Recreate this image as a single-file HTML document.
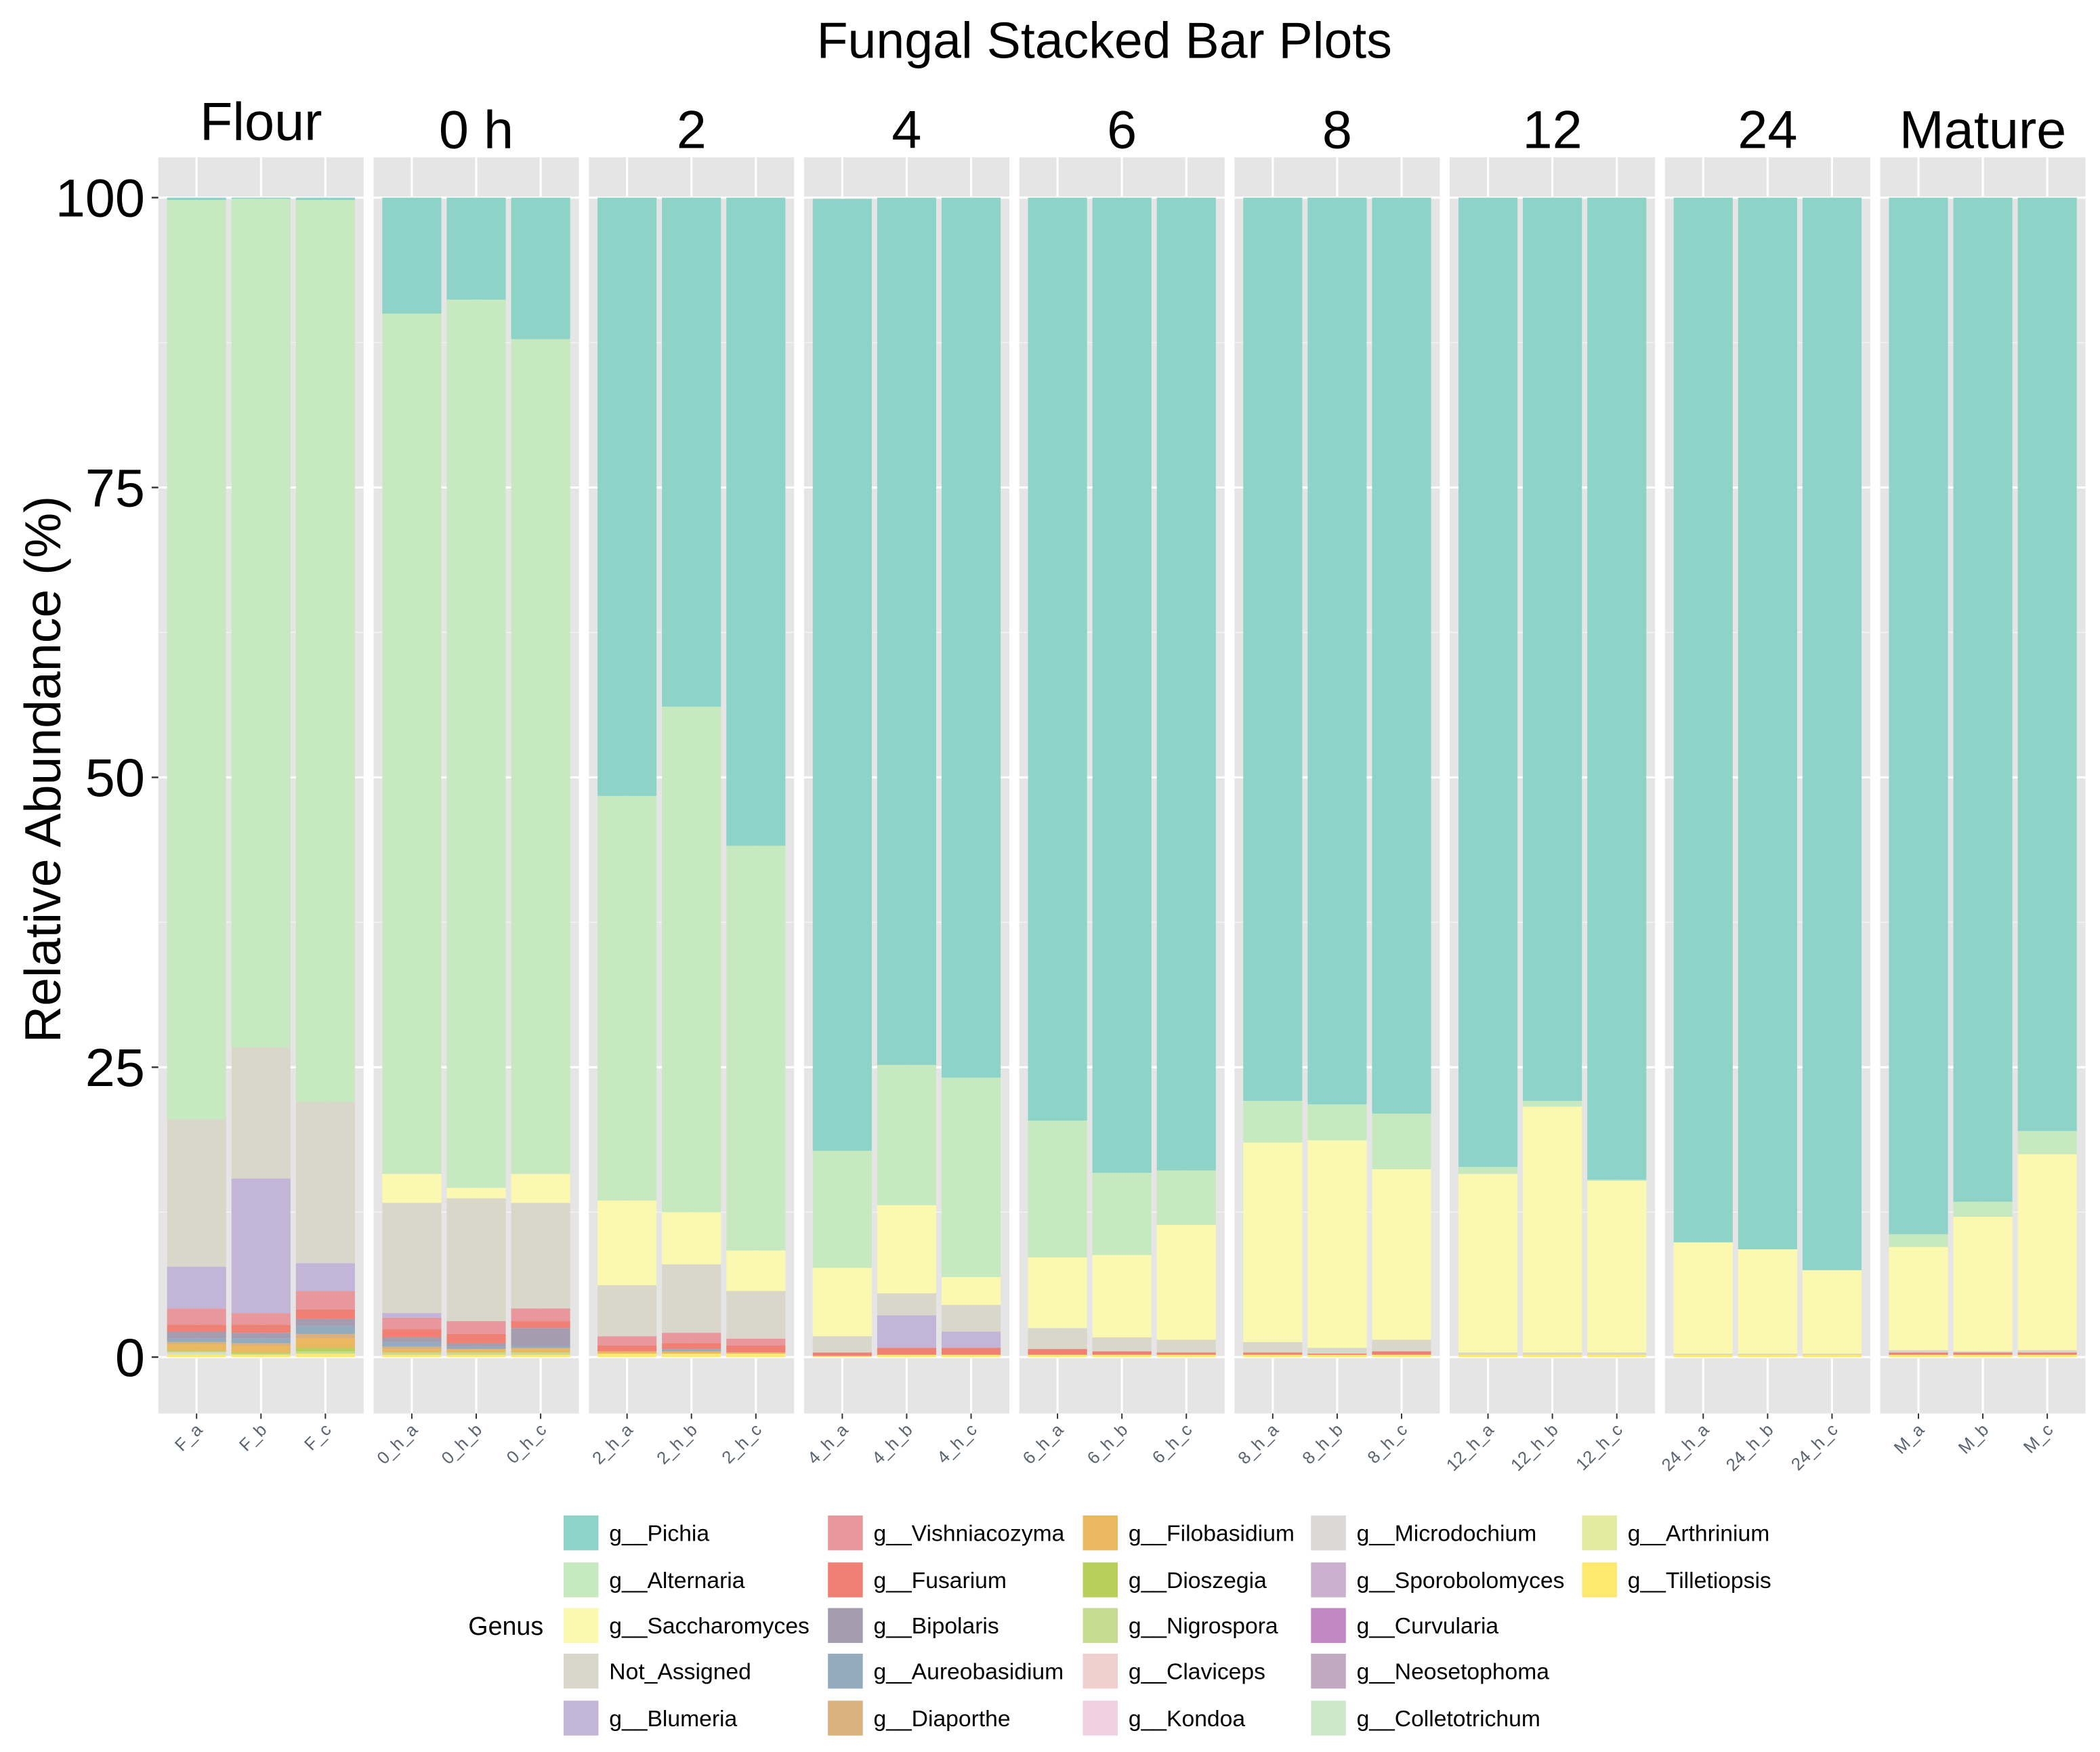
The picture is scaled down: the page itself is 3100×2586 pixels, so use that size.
<!DOCTYPE html>
<html><head><meta charset="utf-8"><style>
html,body{margin:0;padding:0;background:#fff}
svg{display:block}
text{font-family:"Liberation Sans",sans-serif}
</style></head><body>
<svg id="chart" width="3100" height="2586" viewBox="0 0 1565 1305" xmlns="http://www.w3.org/2000/svg">
<rect width="1565" height="1305" fill="#fff"/>
<text x="823" y="43" font-size="38" text-anchor="middle">Fungal Stacked Bar Plots</text>
<text transform="translate(45,573) rotate(-90)" font-size="38" text-anchor="middle">Relative Abundance (%)</text>
<g id="plot"></g>
<g id="legend"></g>
</svg>
<script>
const panels = ["Flour","0 h","2","4","6","8","12","24","Mature"];
const samples = ["F_a","F_b","F_c","0_h_a","0_h_b","0_h_c","2_h_a","2_h_b","2_h_c","4_h_a","4_h_b","4_h_c","6_h_a","6_h_b","6_h_c","8_h_a","8_h_b","8_h_c","12_h_a","12_h_b","12_h_c","24_h_a","24_h_b","24_h_c","M_a","M_b","M_c"];
const genera = ["g__Pichia","g__Alternaria","g__Saccharomyces","Not_Assigned","g__Blumeria","g__Vishniacozyma","g__Fusarium","g__Bipolaris","g__Aureobasidium","g__Diaporthe","g__Filobasidium","g__Dioszegia","g__Nigrospora","g__Claviceps","g__Kondoa","g__Microdochium","g__Sporobolomyces","g__Curvularia","g__Neosetophoma","g__Colletotrichum","g__Arthrinium","g__Tilletiopsis"];
const colors = ["#8dd3c7","#c7e9c0","#fbf9b0","#d9d6ca","#c3b5d7","#e8989c","#ef8073","#a69cb0","#93abbd","#d9b07e","#e9b860","#b8cf5c","#c5db8f","#f2cfcf","#f0d0e2","#dcd8d8","#cbb1cf","#c287c2","#c2a9c2","#cde8c9","#e3eba0","#fde96e"];
const pichia = [0.2,0.1,0.2,10,8.8,12.2,51.6,43.9,55.9,82.1,74.8,75.9,79.6,84.1,83.9,77.9,78.2,79,83.6,77.9,84.7,90.1,90.7,92.5,89.4,86.6,80.5];
const alternaria = [79.3,73.2,77.8,74.2,76.6,72,34.9,43.6,34.9,10.1,12.1,17.2,11.8,7.1,4.7,3.6,3.1,4.8,0.6,0.5,0.1,0,0,0,1.1,1.3,2.0];
const saccharomyces = [0,0,0,2.5,0.9,2.5,7.3,4.5,3.5,5.9,7.6,2.4,6.1,7.1,9.9,17.2,17.9,14.7,15.4,21.2,14.8,9.6,9.0,7.2,8.9,11.6,16.9];
const notAssigned = [12.7,11.3,13.9,9.5,10.6,9.1,4.4,5.9,4.1,1.4,1.9,2.3,1.8,1.2,1.1,0.9,0.5,1.0,0.2,0.2,0.2,0.1,0.1,0.1,0.2,0.1,0.2];
const blumeria = [3.6,11.6,2.4,0.4,0,0,0,0,0,0,2.8,1.4,0,0,0,0,0,0,0,0,0,0,0,0,0,0,0];
const vishniacozyma = [1.4,1.0,1.6,1.0,1.1,1.1,0.8,0.9,0.6,0,0,0,0,0,0,0,0,0,0,0,0,0,0,0,0,0,0];
const fusarium = [0.6,0.7,0.8,0.7,0.8,0.6,0.5,0.5,0.6,0.3,0.6,0.6,0.5,0.3,0.2,0.2,0.1,0.3,0,0,0,0,0,0,0.2,0.2,0.2];
const bipolaris = [0.6,0.5,0.6,0.4,0.3,1.5,0,0,0,0,0,0,0,0,0,0,0,0,0,0,0,0,0,0,0,0,0];
const aureobasidium = [0.3,0.4,0.7,0.4,0.2,0.2,0,0.2,0,0,0,0,0,0,0,0,0,0,0,0,0,0,0,0,0,0,0];
const diaporthe = [0.2,0.2,0.4,0.2,0,0.1,0,0,0,0,0,0,0,0,0,0,0,0,0,0,0,0,0,0,0,0,0];
const filobasidium = [0.5,0.6,0.8,0.3,0.3,0.3,0.2,0.2,0.1,0,0,0,0,0,0,0,0,0,0,0,0,0,0,0,0,0,0];
const dioszegia = [0.1,0.1,0.3,0,0,0,0,0,0,0,0,0,0,0,0,0,0,0,0,0,0,0,0,0,0,0,0];
const nigrospora = [0.1,0.1,0.2,0.2,0.2,0.2,0,0,0,0,0,0,0,0,0,0,0,0,0,0,0,0,0,0,0,0,0];
const claviceps = [0.1,0,0,0,0,0,0,0,0,0,0,0,0,0,0,0,0,0,0,0,0,0,0,0,0,0,0];
const colletotrichum = [0.1,0,0,0,0,0,0,0,0,0,0,0,0,0,0,0,0,0,0,0,0,0,0,0,0,0,0];
const tilletiopsis = [0.2,0.2,0.3,0.2,0.2,0.2,0.3,0.3,0.3,0.1,0.2,0.2,0.2,0.2,0.2,0.2,0.2,0.2,0.2,0.2,0.2,0.2,0.2,0.2,0.2,0.2,0.2];
const zero = samples.map(()=>0);
const series = [pichia,alternaria,saccharomyces,notAssigned,blumeria,vishniacozyma,fusarium,bipolaris,aureobasidium,diaporthe,filobasidium,dioszegia,nigrospora,claviceps,zero,zero,zero,zero,zero,colletotrichum,zero,tilletiopsis];
const yTicks = [0,25,50,75,100];

const NS="http://www.w3.org/2000/svg";
function mk(tag,attrs,parent){const e=document.createElementNS(NS,tag);for(const k in attrs)e.setAttribute(k,attrs[k]);parent.appendChild(e);return e;}
const plot=document.getElementById('plot');
const panelX0=118, panelStep=160.4, panelW=153, panelTop=117, panelBot=1053;
function yScale(v){return 1011 - v*8.64;}
function panelLeft(p){return panelX0+p*panelStep;}
function barCenter(i){const p=Math.floor(i/3),k=i%3;return panelLeft(p)+28.5+k*48;}
const barW=44;

panels.forEach((name,p)=>{
  const x=panelLeft(p);
  const bg=mk('rect',{x:x,y:panelTop,width:panelW,height:panelBot-panelTop,fill:'#e5e5e5'},plot);
  
  
  for(let t=0;t<yTicks.length;t++){
    const ln=mk('line',{x1:x,x2:x+panelW,y1:yScale(yTicks[t]),y2:yScale(yTicks[t]),stroke:'#fff','stroke-width':1.6},plot);
    
    
    if(t<yTicks.length-1){
      const m=mk('line',{x1:x,x2:x+panelW,y1:yScale((yTicks[t]+yTicks[t+1])/2),y2:yScale((yTicks[t]+yTicks[t+1])/2),stroke:'#f2f2f2','stroke-width':0.8},plot);
      
      
    }
  }
  for(let k=0;k<3;k++){
    const cx=barCenter(p*3+k);
    const v=mk('line',{x1:cx,x2:cx,y1:panelTop,y2:panelBot,stroke:'#fff','stroke-width':1.6},plot);
    
    
  }
  const st=mk('text',{x:x+panelW/2,y:(p===0?104:110),'font-size':40,'text-anchor':'middle'},plot);
  st.textContent=name;
  
  
});

samples.forEach((s,i)=>{
  const cx=barCenter(i);
  let cum=0;
  for(let g=genera.length-1;g>=0;g--){
    const v=series[g][i];
    if(v<=0)continue;
    const r=mk('rect',{x:cx-barW/2,y:yScale(cum+v),width:barW,height:v*8.64,fill:colors[g]},plot);
    
    
    cum+=v;
  }
  const tk=mk('line',{x1:cx,x2:cx,y1:panelBot,y2:panelBot+4,stroke:'#333','stroke-width':1},plot);
  
  
  const lb=mk('text',{transform:`translate(${cx+5},${panelBot+13}) rotate(-45)`,'font-size':13,'text-anchor':'end',fill:'#5a6470'},plot);
  lb.textContent=s;
  
  
});

yTicks.forEach(t=>{
  const lb=mk('text',{x:108,y:yScale(t)+14,'font-size':40,'text-anchor':'end'},plot);
  lb.textContent=t;
  
  
  const tk=mk('line',{x1:113,x2:118,y1:yScale(t),y2:yScale(t),stroke:'#333','stroke-width':1.2},plot);
  
  
});

const leg=document.getElementById('legend');
const gt=mk('text',{x:349,y:1218,'font-size':19},leg);
gt.textContent='Genus';


const colX=[420,617,807,977,1179], rowY=[1142,1177,1211,1245,1280];
genera.forEach((g,i)=>{
  const c=Math.floor(i/5), r=i%5;
  const k=mk('rect',{x:colX[c],y:rowY[r]-13,width:26,height:26,fill:colors[i]},leg);
  
  
  const t=mk('text',{x:colX[c]+34,y:rowY[r]+6,'font-size':17},leg);
  t.textContent=g;
  
  
});
</script>
</body></html>
